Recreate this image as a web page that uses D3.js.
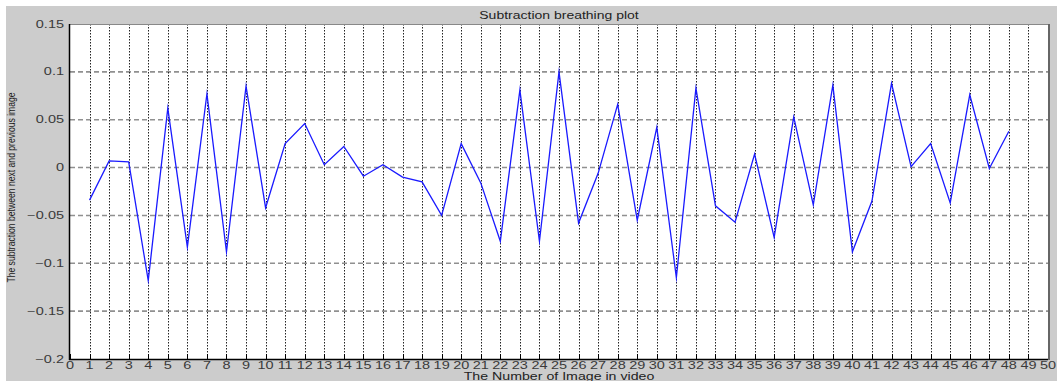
<!DOCTYPE html>
<html><head><meta charset="utf-8">
<script src="https://cdn.jsdelivr.net/npm/d3@7"></script>
<style>html,body{margin:0;padding:0;background:#fff;}svg{display:block;}</style>
</head><body>
<svg id="chart" width="1057" height="381"></svg>
<script>
const frames = d3.range(1, 49);
const values = [-0.034, 0.007, 0.006, -0.118, 0.062, -0.083, 0.077, -0.088, 0.085, -0.042,
  0.025, 0.046, 0.003, 0.022, -0.009, 0.003, -0.010, -0.015, -0.050, 0.025,
  -0.016, -0.077, 0.081, -0.077, 0.100, -0.058, -0.006, 0.066, -0.055, 0.042,
  -0.115, 0.083, -0.040, -0.057, 0.014, -0.073, 0.053, -0.039, 0.086, -0.088,
  -0.035, 0.088, 0.001, 0.025, -0.037, 0.076, -0.001, 0.038];
const xTicks = d3.range(0, 51);
const yTicks = [-0.2, -0.15, -0.1, -0.05, 0, 0.05, 0.1, 0.15];
const title = "Subtraction breathing plot";
const xLabel = "The Number of Image in video";
const yLabel = "The subtraction between next and previous image";

const svg = d3.select("#chart");
const W = 1057, H = 381;
const m = {left: 70, right: 1048, top: 24, bottom: 359};
const SX = 1.45; // horizontal text stretch seen in the reference
svg.append("rect").attr("x", 6).attr("y", 6).attr("width", W - 6).attr("height", H - 6).attr("fill", "#cccccc");

const x = d3.scaleLinear().domain([0, 50]).range([m.left, m.right]);
const y = d3.scaleLinear().domain([-0.2, 0.15]).range([m.bottom, m.top]);

svg.append("rect").attr("x", m.left).attr("y", m.top).attr("width", m.right - m.left).attr("height", m.bottom - m.top).attr("fill", "#fff");

// grid
const g = svg.append("g");
g.selectAll("line.hg").data(yTicks.filter(d => d > -0.2 && d < 0.15)).join("line")
  .attr("x1", m.left).attr("x2", m.right).attr("y1", d => y(d)).attr("y2", d => y(d))
  .attr("stroke", "#909090").attr("stroke-width", 1.6).attr("stroke-dasharray", "5,3");
g.selectAll("line.vg").data(xTicks.filter(d => d > 0 && d < 50)).join("line")
  .attr("x1", d => Math.round(x(d)) + 0.5).attr("x2", d => Math.round(x(d)) + 0.5).attr("y1", m.top).attr("y2", m.bottom)
  .attr("stroke", "#222").attr("stroke-width", 1).attr("stroke-dasharray", "1.5,1.5");

// x ticks (inward)
g.selectAll("line.xt").data(xTicks).join("line")
  .attr("x1", d => Math.round(x(d)) + 0.5).attr("x2", d => Math.round(x(d)) + 0.5).attr("y1", m.bottom).attr("y2", m.bottom - 5)
  .attr("stroke", "#000").attr("stroke-width", 1);

// data line
const line = d3.line().x((d, i) => x(frames[i])).y(d => y(d));
svg.append("path").datum(values).attr("d", line).attr("fill", "none")
  .attr("stroke", "#1a1aff").attr("stroke-width", 1.3).attr("stroke-linejoin", "miter").attr("stroke-miterlimit", 20);

// frame
svg.append("line").attr("x1", m.left).attr("x2", m.right).attr("y1", m.top + 0.5).attr("y2", m.top + 0.5).attr("stroke", "#888").attr("stroke-width", 1);
svg.append("line").attr("x1", m.right + 1).attr("x2", m.right + 1).attr("y1", m.top).attr("y2", m.bottom + 1).attr("stroke", "#666").attr("stroke-width", 2);
svg.append("line").attr("x1", m.left - 0.5).attr("x2", m.left - 0.5).attr("y1", m.top).attr("y2", m.bottom + 1).attr("stroke", "#000").attr("stroke-width", 1.5);
svg.append("line").attr("x1", m.left - 1).attr("x2", m.right).attr("y1", m.bottom + 0.5).attr("y2", m.bottom + 0.5).attr("stroke", "#000").attr("stroke-width", 1.5);

const font = "'Liberation Sans', Arial, sans-serif";
// y tick labels
svg.selectAll("text.yl").data(yTicks).join("text")
  .attr("transform", d => `translate(${m.left - 6},${y(d)}) scale(${SX},1)`)
  .attr("dy", "0.35em").attr("text-anchor", "end")
  .attr("font-family", font).attr("font-size", 10).attr("fill", "#3a3a3a").text(d => d3.format("")(d));
// x tick labels
svg.selectAll("text.xl").data(xTicks).join("text")
  .attr("transform", d => `translate(${x(d)},${m.bottom + 10}) scale(${SX},1)`)
  .attr("text-anchor", "middle")
  .attr("font-family", font).attr("font-size", 10).attr("fill", "#3a3a3a").text(d => d);

svg.append("text").attr("transform", `translate(${(m.left + m.right) / 2},18.5) scale(1.4,1)`).attr("text-anchor", "middle")
  .attr("font-family", font).attr("font-size", 10).attr("fill", "#222").text(title);
svg.append("text").attr("transform", `translate(${(m.left + m.right) / 2},379.5) scale(1.35,1)`).attr("text-anchor", "middle")
  .attr("font-family", font).attr("font-size", 10.5).attr("fill", "#222").text(xLabel);
svg.append("text").attr("transform", `translate(15,${(m.top + m.bottom) / 2 - 4}) scale(1.3,1) rotate(-90)`).attr("text-anchor", "middle")
  .attr("font-family", font).attr("font-size", 8.6).attr("fill", "#222").text(yLabel);
</script>
</body></html>
